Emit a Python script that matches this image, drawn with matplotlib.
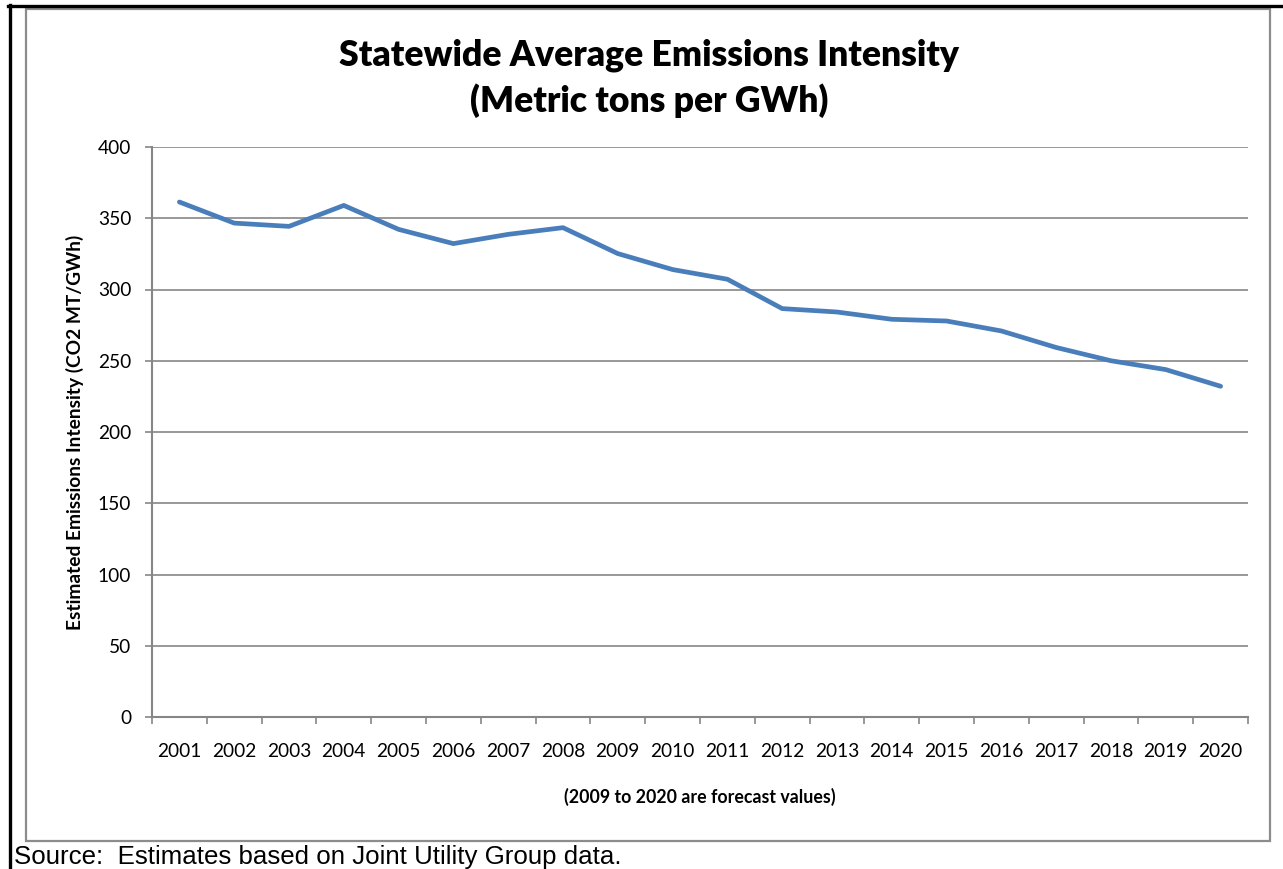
import matplotlib
matplotlib.use("Agg")
import matplotlib.pyplot as plt
from matplotlib.lines import Line2D
from matplotlib.patches import Rectangle

years = [str(y) for y in range(2001, 2021)]
intensity = [361.4, 346.6, 344.3, 359.0, 342.2, 332.2, 338.7, 343.4,
             325.2, 314.0, 307.2, 286.6, 284.2, 279.1, 277.9, 270.9,
             259.3, 250.0, 243.8, 232.1]
y_ticks = [0, 50, 100, 150, 200, 250, 300, 350, 400]

W, H = 1283, 869
fig = plt.figure(figsize=(W / 100, H / 100), dpi=100)
fig.patch.set_facecolor("white")

def fx(px):
    return px / W

def fy(py):
    return 1 - py / H

# outer frame (black, left and top) and chart box (gray)
fig.add_artist(Line2D([fx(9.5), fx(9.5)], [fy(5), fy(869)], color="black", lw=2.4,
                      transform=fig.transFigure))
fig.add_artist(Line2D([fx(8), fx(1283)], [fy(6), fy(6)], color="black", lw=2.4,
                      transform=fig.transFigure))
fig.add_artist(Rectangle((fx(26), fy(841)), fx(1270) - fx(26), fy(9) - fy(841),
                         fill=False, edgecolor="#8c8c8c", lw=1.6,
                         transform=fig.transFigure))

ax = fig.add_axes([fx(152), fy(717), fx(1248) - fx(152), fy(147) - fy(717)])
x = list(range(len(years)))
ax.plot(x, intensity, color="#4a7ebb", lw=3.4, solid_capstyle="round",
        solid_joinstyle="round", zorder=3)

ax.set_xlim(-0.5, len(years) - 0.5)
ax.set_ylim(0, 400)
ax.set_yticks(y_ticks)
ax.set_yticklabels([str(v) for v in y_ticks], fontsize=13.8, family="Lato")
ax.set_xticks(x)
ax.set_xticklabels(years, fontsize=13.8, family="Lato")
ax.set_xticks([i - 0.5 for i in range(len(years) + 1)], minor=True)
ax.tick_params(axis="x", which="major", length=0, pad=19)
ax.tick_params(axis="x", which="minor", length=5, color="#868686", width=1.2)
ax.tick_params(axis="y", which="major", length=5, color="#868686", width=1.2, pad=10)

ax.grid(axis="y", color="#868686", lw=1.2)
ax.set_axisbelow(True)
for s in ("top", "right"):
    ax.spines[s].set_visible(False)
for s in ("left", "bottom"):
    ax.spines[s].set_color("#868686")
    ax.spines[s].set_linewidth(1.5)

ax.set_ylabel("Estimated Emissions Intensity (CO2 MT/GWh)", fontsize=13.8,
              fontweight="bold", family="Lato", labelpad=10)
ax.set_xlabel("(2009 to 2020 are forecast values)", fontsize=12.8,
              fontweight="bold", family="Lato", labelpad=20)

fig.text(fx(649), fy(55), "Statewide Average Emissions Intensity",
         ha="center", va="center", fontsize=25.6, fontweight="heavy", family="Lato")
fig.text(fx(649), fy(101), "(Metric tons per GWh)",
         ha="center", va="center", fontsize=25.6, fontweight="heavy", family="Lato")

fig.text(fx(14), fy(857), "Source:  Estimates based on Joint Utility Group data.",
         ha="left", va="center", fontsize=18.6, family="Liberation Sans")

fig.savefig("out.png", dpi=100)
